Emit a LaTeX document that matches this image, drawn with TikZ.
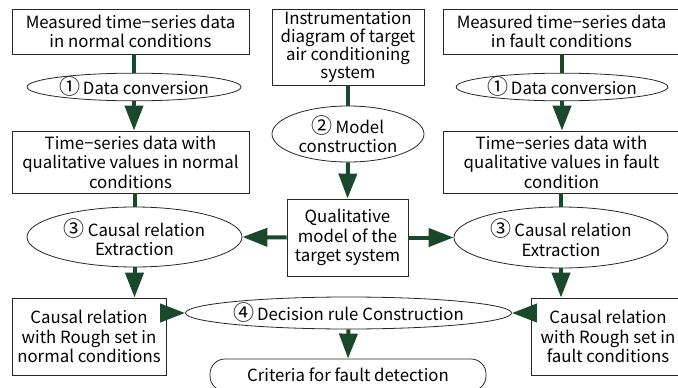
\documentclass[tikz,border=0pt]{standalone}
\usepackage{fontspec}
\setmainfont{Noto Sans CJK JP}
\usetikzlibrary{arrows.meta,shapes.geometric}
\definecolor{flowgreen}{RGB}{26,72,42}
% circled step numbers, set a little larger than the text
\newcommand{\stepno}[1]{{\fontsize{21}{19}\selectfont #1}}
\begin{document}
\begin{tikzpicture}[x=1pt,y=-1pt,
  every node/.style={font=\fontsize{16.8}{19.5}\selectfont, align=center, inner sep=0pt},
  tightlines/.style={font=\fontsize{16.8}{17.8}\selectfont},
  databox/.style={draw=black!85, line width=0.8pt, fill=white, minimum width=#1},
  procell/.style={ellipse, draw=black!85, line width=0.8pt, fill=white},
  flow/.style={draw=flowgreen, line width=4pt},
  flowarrow/.style={flow, -{Triangle[length=25pt,width=18pt]}},
]
\useasboundingbox (0,0) rectangle (678,388);

% left column: normal conditions
\node[databox=237pt, minimum height=45pt] (mn) at (130.5,31.5) {Measured time−series data\\in normal conditions};
\node[procell, minimum width=214pt, minimum height=27pt] (cvn) at (134,87) {\stepno{①}\,Data conversion};
\node[databox=237pt, minimum height=62pt] (qn) at (130.5,162) {Time−series data with\\qualitative values in normal\\conditions};
\node[procell, minimum width=215pt, minimum height=60pt] (exn) at (134.5,237) {\stepno{③}\,Causal relation\\Extraction};
\node[databox=154pt, minimum height=77pt] (rn) at (89,336.5) {Causal relation\\with Rough set in\\normal conditions};

% centre column: model
\node[databox=152pt, minimum height=76pt, tightlines] (inst) at (348,47) {Instrumentation\\diagram of target\\air conditioning\\system};
\node[procell, minimum width=152pt, minimum height=56pt] (mc) at (348,134) {\stepno{②}\,Model\\construction};
\node[databox=121pt, minimum height=77pt] (qm) at (347.5,237.5) {Qualitative\\model of the\\target system};
\node[procell, minimum width=293pt, minimum height=32pt] (dr) at (348.5,313) {\stepno{④}\,Decision rule Construction};
\node[draw=black!85, line width=0.8pt, rounded corners=15pt, minimum width=276pt, minimum height=32pt] (crit) at (348,375) {Criteria for fault detection};

% right column: fault conditions
\node[databox=237pt, minimum height=45pt] (mf) at (561.5,31.5) {Measured time−series data\\in fault conditions};
\node[procell, minimum width=210pt, minimum height=27pt] (cvf) at (562,87) {\stepno{①}\,Data conversion};
\node[databox=237pt, minimum height=62pt] (qf) at (561.5,162) {Time−series data with\\qualitative values in fault\\condition};
\node[procell, minimum width=214pt, minimum height=61pt] (exf) at (561,237.5) {\stepno{③}\,Causal relation\\Extraction};
\node[databox=154pt, minimum height=77pt] (rf) at (608,336.5) {Causal relation\\with Rough set in\\fault conditions};

% connectors
\draw[flow] (cvn.north |- mn.south) -- (cvn.north);
\draw[flowarrow] (cvn.south) -- (cvn.south |- qn.north);
\draw[flow] (exn.north |- qn.south) -- (exn.north);
\draw[flowarrow] (exn.south) -- (exn.south |- rn.north);

\draw[flow] (inst.south) -- (mc.north);
\draw[flowarrow] (mc.south) -- (qm.north);
\draw[flowarrow] (qm.west) -- (exn.east);
\draw[flowarrow] (qm.east) -- (exf.west);

\draw[flow] (cvf.north |- mf.south) -- (cvf.north);
\draw[flowarrow] (cvf.south) -- (cvf.south |- qf.north);
\draw[flow] (exf.north |- qf.south) -- (exf.north);
\draw[flowarrow] (exf.south) -- (exf.south |- rf.north);

\draw[flowarrow] (dr.west -| rn.east) -- (dr.west);
\draw[flowarrow] (dr.east -| rf.west) -- (dr.east);
\draw[flowarrow] (dr.south) -- (crit.north);
\end{tikzpicture}
\end{document}
